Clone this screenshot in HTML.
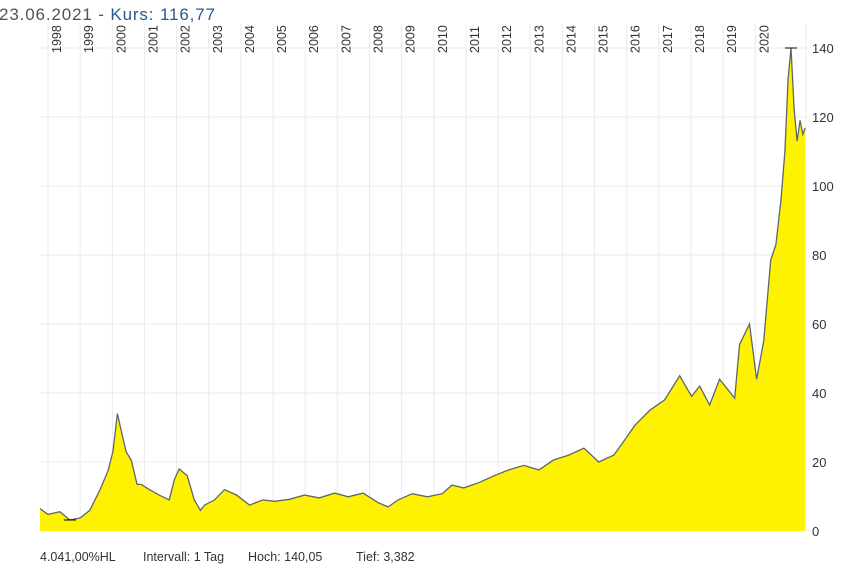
<!DOCTYPE html>
<html><head><meta charset="utf-8"><style>
body{margin:0;background:#fff;font-family:"Liberation Sans",sans-serif;}
svg text{font-family:"Liberation Sans",sans-serif;}
</style></head><body>
<svg width="850" height="575">
<text x="-1" y="20" font-size="17" fill="#4a5560" textLength="216">23.06.2021  -  <tspan fill="#2a5a8a">Kurs: 116,77</tspan></text>
<g id="grid"></g><g id="plot"></g><g id="axes"></g>
<g font-size="12.5" fill="#333">
<text x="40" y="561">4.041,00%HL</text>
<text x="143" y="561">Intervall: 1 Tag</text>
<text x="248" y="561">Hoch:  140,05</text>
<text x="356" y="561">Tief:  3,382</text>
</g>
</svg>
<script>
const years=[1998,1999,2000,2001,2002,2003,2004,2005,2006,2007,2008,2009,2010,2011,2012,2013,2014,2015,2016,2017,2018,2019,2020];
const yTicks=[0,20,40,60,80,100,120,140];
const times=[1997.75,1998.0,1998.37,1998.68,1999.0,1999.3,1999.62,1999.87,2000.02,2000.16,2000.28,2000.43,2000.59,2000.77,2000.9,2001.15,2001.46,2001.77,2001.93,2002.08,2002.33,2002.55,2002.74,2002.87,2003.18,2003.49,2003.87,2004.27,2004.68,2005.05,2005.51,2005.98,2006.44,2006.91,2007.34,2007.8,2008.27,2008.58,2008.89,2009.33,2009.8,2010.26,2010.56,2010.93,2011.4,2011.87,2012.33,2012.8,2013.27,2013.73,2014.2,2014.67,2015.13,2015.6,2015.91,2016.26,2016.72,2017.18,2017.65,2018.02,2018.27,2018.58,2018.89,2019.36,2019.51,2019.82,2020.04,2020.26,2020.48,2020.64,2020.8,2020.92,2021.02,2021.11,2021.21,2021.3,2021.39,2021.48,2021.55];
const prices=[6.5,4.8,5.6,3.2,3.8,6,12,17.5,23,34,29,23,20.5,13.5,13.5,12,10.4,9,14.8,18,16,9,6,7.5,9,12,10.4,7.5,9,8.6,9.2,10.4,9.6,11,9.9,11,8.2,7,9,10.8,9.9,10.8,13.3,12.5,14,16,17.7,19,17.7,20.6,22,24,20,22,26,30.7,35,38,45,39,42,36.5,44,38.5,54,60,44,55,78.5,83,96,110,131,140,122,113,119,115,116.8];
const NS='http://www.w3.org/2000/svg';
const X=t=>48+(t-1998)*32.15, Y=v=>531-v*3.45;
const grid=document.getElementById('grid'),plot=document.getElementById('plot'),axes=document.getElementById('axes');
function mk(tag,at,parent){const e=document.createElementNS(NS,tag);for(const k in at)e.setAttribute(k,at[k]);parent.appendChild(e);return e;}
yTicks.forEach(v=>{
 const l=mk('line',{x1:40,x2:806,y1:Y(v),y2:Y(v),stroke:'#ebebeb'},grid);
 
 
 const t=mk('text',{x:812,y:Y(v)+5,'font-size':13,fill:'#333'},axes);t.textContent=v;
 
 
});
years.forEach(yr=>{
 const x=X(yr);
 const l=mk('line',{x1:x,x2:x,y1:24,y2:531,stroke:'#ebebeb'},grid);
 
 
 const t=mk('text',{transform:`translate(${x+13},53) rotate(-90)`,'font-size':12.5,fill:'#333'},axes);t.textContent=yr;
 
 
});
mk('line',{x1:806,x2:806,y1:24,y2:531,stroke:'#ebebeb'},grid);
let d='';times.forEach((t,i)=>{d+=(i?'L':'M')+X(t).toFixed(1)+','+Y(prices[i]).toFixed(1);});
const area=mk('path',{d:d+`L${X(times[times.length-1])},531L${X(times[0])},531Z`,fill:'#fff200'},plot);


const line=mk('path',{d:d,fill:'none',stroke:'#5f656b','stroke-width':1.3},plot);


const hi=prices.indexOf(Math.max(...prices)),lo=prices.indexOf(Math.min(...prices));
const hm=mk('line',{x1:X(times[hi])-6,x2:X(times[hi])+6,y1:Y(prices[hi]),y2:Y(prices[hi]),stroke:'#000'},plot);


const lm=mk('line',{x1:X(times[lo])-6,x2:X(times[lo])+6,y1:Y(prices[lo]),y2:Y(prices[lo]),stroke:'#000'},plot);


</script>
</body></html>
